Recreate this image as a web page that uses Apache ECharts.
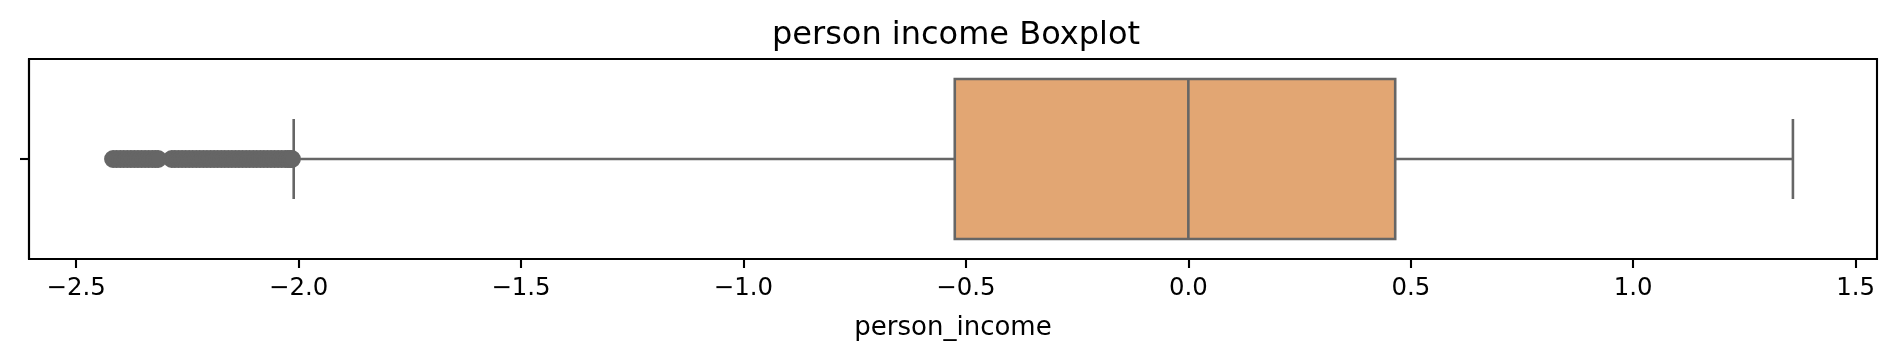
<!DOCTYPE html>
<html>
<head>
<meta charset="utf-8">
<script src="https://cdn.jsdelivr.net/npm/echarts@6/dist/echarts.min.js"></script>
<style>
html,body{margin:0;padding:0;background:#fff;}
#chart{width:1896px;height:360px;}
</style>
</head>
<body>
<div id="chart"></div>
<script>
// ---- data ----
const titleText = 'person income Boxplot';
const axisName = 'person_income';
const categories = [''];
// [whisker low, Q1, median, Q3, whisker high]
const boxStats = [-2.011, -0.525, 0.0, 0.465, 1.359];
const outliers = [
  -2.417, -2.409, -2.401, -2.393, -2.385, -2.377, -2.369, -2.361, -2.353, -2.345,
  -2.337, -2.329, -2.322, -2.316,
  -2.285, -2.278, -2.270, -2.262, -2.254, -2.246, -2.238, -2.230, -2.222, -2.214,
  -2.206, -2.198, -2.190, -2.182, -2.174, -2.166, -2.158, -2.150, -2.142, -2.134,
  -2.126, -2.118, -2.110, -2.102, -2.094, -2.086, -2.078, -2.070, -2.062, -2.054,
  -2.046, -2.038, -2.030, -2.024, -2.019, -2.015
];
const xTicks = [-2.5, -2.0, -1.5, -1.0, -0.5, 0.0, 0.5, 1.0, 1.5];
const xMin = -2.606, xMax = 1.548;

const FONT = 'DejaVu Sans';
const LINE = '#666666';
const FILL = '#E2A673';

const chart = echarts.init(document.getElementById('chart'), null, {renderer: 'canvas'});
const fmt = v => (Math.abs(v) < 1e-9 ? 0 : v).toFixed(1).replace('-', '\u2212');

chart.setOption({
  animation: false,
  backgroundColor: '#fff',
  title: {
    text: titleText,
    left: 951, top: 15, textAlign: 'center',
    textStyle: {fontFamily: FONT, fontSize: 32, fontWeight: 'normal', color: '#000'}
  },
  grid: {
    left: 29, right: 19, top: 59, height: 200,
    show: true, borderColor: '#000', borderWidth: 2.1, backgroundColor: '#fff'
  },
  xAxis: {
    type: 'value', min: xMin, max: xMax,
    name: axisName, nameLocation: 'middle', nameGap: 56,
    nameTextStyle: {fontFamily: FONT, fontSize: 26, color: '#000'},
    splitLine: {show: false},
    axisLine: {show: true, onZero: false, lineStyle: {color: '#000', width: 2.1}},
    axisTick: {show: true, length: 9, customValues: xTicks, lineStyle: {color: '#000', width: 2.1}},
    axisLabel: {
      customValues: xTicks, formatter: fmt, margin: 18,
      fontFamily: FONT, fontSize: 24.4, color: '#000'
    }
  },
  yAxis: {
    type: 'category', data: categories,
    axisLine: {show: true, onZero: false, lineStyle: {color: '#000', width: 2.1}},
    axisTick: {show: true, alignWithLabel: true, length: 9, lineStyle: {color: '#000', width: 2.1}},
    axisLabel: {show: false},
    splitLine: {show: false}
  },
  series: [
    {
      type: 'custom',
      data: [[0].concat(boxStats)],
      encode: {y: 0, x: [1, 2, 3, 4, 5]},
      z: 2,
      renderItem: function (params, api) {
        const c = api.value(0);
        const pt = i => api.coord([api.value(i), c]);
        const band = api.size([0, 1])[1];
        const boxH = band * 0.8, capH = band * 0.4;
        const pLo = pt(1), pQ1 = pt(2), pMed = pt(3), pQ3 = pt(4), pHi = pt(5);
        const cy = pLo[1];
        const ls = {stroke: LINE, lineWidth: 2.6, fill: null};
        return {
          type: 'group',
          children: [
            {type: 'line', shape: {x1: pLo[0], y1: cy, x2: pQ1[0], y2: cy}, style: ls},
            {type: 'line', shape: {x1: pQ3[0], y1: cy, x2: pHi[0], y2: cy}, style: ls},
            {type: 'line', shape: {x1: pLo[0], y1: cy - capH / 2, x2: pLo[0], y2: cy + capH / 2}, style: ls},
            {type: 'line', shape: {x1: pHi[0], y1: cy - capH / 2, x2: pHi[0], y2: cy + capH / 2}, style: ls},
            {type: 'rect', shape: {x: pQ1[0], y: cy - boxH / 2, width: pQ3[0] - pQ1[0], height: boxH},
              style: {fill: FILL, stroke: LINE, lineWidth: 2.6}},
            {type: 'line', shape: {x1: pMed[0], y1: cy - boxH / 2, x2: pMed[0], y2: cy + boxH / 2}, style: ls}
          ]
        };
      }
    },
    {
      type: 'scatter',
      data: outliers.map(v => [v, 0]),
      symbol: 'circle',
      symbolSize: 16,
      z: 3,
      itemStyle: {color: LINE, borderColor: LINE, borderWidth: 2, opacity: 1}
    }
  ]
});
</script>
</body>
</html>
